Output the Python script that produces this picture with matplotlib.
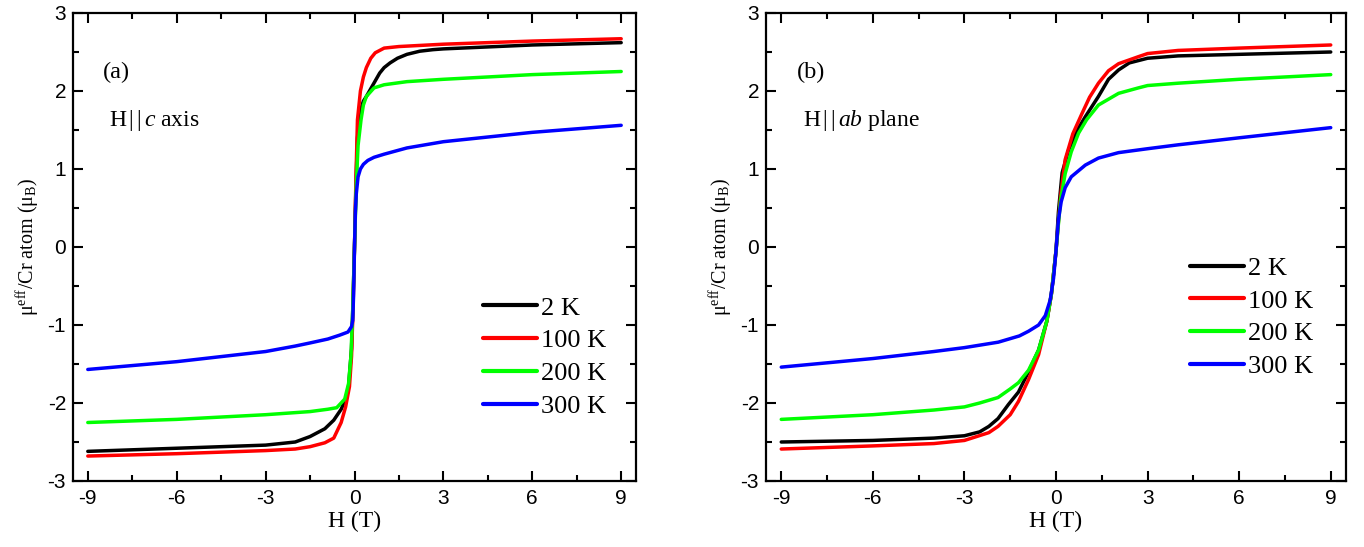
import matplotlib
matplotlib.use("Agg")
import matplotlib.pyplot as plt
from matplotlib.ticker import MultipleLocator

plt.rcParams['font.family'] = ['Liberation Sans', 'DejaVu Sans']
plt.rcParams['axes.unicode_minus'] = False
plt.rcParams['mathtext.fontset'] = 'custom'
plt.rcParams['mathtext.rm'] = 'Liberation Serif'
plt.rcParams['mathtext.it'] = 'Liberation Serif:italic'
plt.rcParams['mathtext.bf'] = 'Liberation Serif:bold'

SERIF = ['Liberation Serif', 'DejaVu Serif']

labels = ["2 K", "100 K", "200 K", "300 K"]
colors = ["#000000", "#ff0000", "#00ff00", "#0000ff"]

# ---- Panel (a): H || c axis ----
a_H_2K = [-9, -6, -3, -2, -1.5, -1.0, -0.7, -0.45, -0.3, -0.2, -0.1, -0.05, 0, 0.05, 0.1, 0.2, 0.3, 0.4, 0.55, 0.7, 0.85, 1.0, 1.2, 1.45, 1.77, 2.2, 2.65, 3, 6, 9]
a_M_2K = [-2.62, -2.58, -2.54, -2.50, -2.43, -2.33, -2.22, -2.08, -1.95, -1.79, -1.30, -0.70, 0, 0.80, 1.40, 1.75, 1.87, 1.93, 2.03, 2.13, 2.23, 2.30, 2.36, 2.42, 2.47, 2.51, 2.53, 2.54, 2.59, 2.62]

a_H_100K = [-9, -6, -3, -2, -1.5, -1.0, -0.7, -0.45, -0.3, -0.17, -0.1, -0.05, 0, 0.05, 0.1, 0.2, 0.3, 0.4, 0.55, 0.7, 1.0, 1.5, 2, 3, 6, 9]
a_M_100K = [-2.68, -2.65, -2.61, -2.59, -2.56, -2.51, -2.45, -2.25, -2.05, -1.79, -1.40, -0.80, 0, 0.90, 1.63, 2.00, 2.18, 2.30, 2.42, 2.49, 2.55, 2.57, 2.58, 2.60, 2.64, 2.67]

a_H_200K = [-9, -6, -3, -1.5, -0.9, -0.6, -0.33, -0.2, -0.12, -0.06, 0, 0.06, 0.12, 0.22, 0.3, 0.4, 0.66, 1.0, 1.77, 3, 6, 9]
a_M_200K = [-2.25, -2.21, -2.15, -2.11, -2.08, -2.06, -1.95, -1.75, -1.40, -0.80, 0, 0.80, 1.30, 1.63, 1.82, 1.93, 2.04, 2.08, 2.12, 2.15, 2.21, 2.25]

a_H_300K = [-9, -6, -3, -2, -1.5, -0.9, -0.5, -0.22, -0.1, -0.06, -0.03, 0, 0.03, 0.06, 0.12, 0.2, 0.3, 0.45, 0.66, 1.0, 1.77, 3, 6, 9]
a_M_300K = [-1.57, -1.47, -1.34, -1.27, -1.23, -1.18, -1.13, -1.09, -1.02, -0.94, -0.60, 0, 0.45, 0.68, 0.90, 1.00, 1.06, 1.11, 1.15, 1.19, 1.27, 1.35, 1.47, 1.56]

# ---- Panel (b): H || ab plane ----
b_H_2K = [-9, -6, -4, -3, -2.5, -2.2, -1.9, -1.56, -1.23, -0.9, -0.57, -0.3, -0.15, 0, 0.08, 0.2, 0.41, 0.7, 0.96, 1.39, 1.72, 2.05, 2.4, 3, 4, 6, 9]
b_M_2K = [-2.50, -2.48, -2.45, -2.42, -2.37, -2.30, -2.20, -2.02, -1.86, -1.60, -1.32, -0.95, -0.60, -0.05, 0.45, 0.95, 1.24, 1.50, 1.67, 1.93, 2.15, 2.27, 2.36, 2.42, 2.45, 2.47, 2.50]

b_H_100K = [-9, -6, -4, -3, -2.2, -1.9, -1.5, -1.23, -0.9, -0.57, -0.3, -0.15, 0, 0.15, 0.3, 0.55, 0.85, 1.1, 1.39, 1.72, 2.05, 2.7, 3, 4, 6, 9]
b_M_100K = [-2.59, -2.55, -2.52, -2.48, -2.38, -2.30, -2.15, -1.98, -1.70, -1.38, -0.95, -0.60, -0.05, 0.65, 1.12, 1.45, 1.71, 1.92, 2.10, 2.26, 2.35, 2.44, 2.48, 2.52, 2.55, 2.59]

b_H_200K = [-9, -6, -4, -3, -2.5, -1.9, -1.5, -1.23, -0.9, -0.57, -0.3, -0.15, 0, 0.15, 0.3, 0.5, 0.74, 1.0, 1.39, 2.05, 2.7, 3, 4, 6, 9]
b_M_200K = [-2.21, -2.15, -2.09, -2.05, -2.00, -1.93, -1.82, -1.74, -1.58, -1.32, -0.95, -0.60, -0.05, 0.60, 0.94, 1.22, 1.46, 1.63, 1.82, 1.97, 2.04, 2.07, 2.10, 2.15, 2.21]

b_H_300K = [-9, -6, -4, -3, -1.89, -1.2, -0.9, -0.57, -0.35, -0.19, -0.08, 0, 0.08, 0.17, 0.3, 0.5, 0.96, 1.39, 2.05, 3, 4, 6, 9]
b_M_300K = [-1.54, -1.43, -1.34, -1.29, -1.22, -1.14, -1.08, -1.00, -0.88, -0.68, -0.40, -0.05, 0.35, 0.58, 0.76, 0.90, 1.05, 1.14, 1.21, 1.26, 1.31, 1.40, 1.53]

x_ticks = [-9, -6, -3, 0, 3, 6, 9]
y_ticks = [-3, -2, -1, 0, 1, 2, 3]

panels = [
    dict(rect=[73/1364, 66/547, 563/1364, 468/547],
         series=[(a_H_2K, a_M_2K), (a_H_100K, a_M_100K), (a_H_200K, a_M_200K), (a_H_300K, a_M_300K)],
         tag="(a)", note=r"H$\,|\,|\,c$ axis", legpos=(0.728, 0.265)),
    dict(rect=[766/1364, 66/547, 580/1364, 468/547],
         series=[(b_H_2K, b_M_2K), (b_H_100K, b_M_100K), (b_H_200K, b_M_200K), (b_H_300K, b_M_300K)],
         tag="(b)", note=r"H$\,|\,|\,ab$ plane", legpos=(0.731, 0.35)),
]

fig = plt.figure(figsize=(13.64, 5.47), dpi=100)
for p in panels:
    ax = fig.add_axes(p["rect"])
    for (h, m), c, lab in zip(p["series"], colors, labels):
        ax.plot(h, m, color=c, lw=2.5, label=lab, solid_capstyle='round', solid_joinstyle='round')
    ax.set_xlim(-9.5, 9.5)
    ax.set_ylim(-3, 3)
    ax.set_xticks(x_ticks)
    ax.set_yticks(y_ticks)
    ax.xaxis.set_minor_locator(MultipleLocator(1.5))
    ax.yaxis.set_minor_locator(MultipleLocator(0.5))
    ax.tick_params(which='both', direction='in', top=True, right=True, labelsize=15, width=1.5)
    ax.tick_params(which='major', length=7)
    ax.tick_params(which='minor', length=4)
    ax.tick_params(axis='x', pad=6)
    ax.tick_params(axis='y', pad=5)
    for s in ax.spines.values():
        s.set_linewidth(1.6)
    ax.set_xlabel("H (T)", family=SERIF, fontsize=17, labelpad=2)
    ax.set_ylabel("μ$^{\\rm eff}$/Cr atom (μ$_{\\rm B}$)", family=SERIF, fontsize=14.5, labelpad=4)
    ax.text(0.053, 0.873, p["tag"], transform=ax.transAxes, family=SERIF, fontsize=17.5, va='center')
    ax.text(0.064, 0.77, p["note"], transform=ax.transAxes, family=SERIF, fontsize=17, va='center')
    ax.legend(loc='center left', bbox_to_anchor=p["legpos"], frameon=False,
              prop={'family': SERIF, 'size': 19}, handlelength=2.05, handletextpad=0.15,
              labelspacing=0.35, borderaxespad=0, borderpad=0)
    for line in ax.get_legend().get_lines():
        line.set_linewidth(3.0)

fig.savefig("out.png", dpi=100)
